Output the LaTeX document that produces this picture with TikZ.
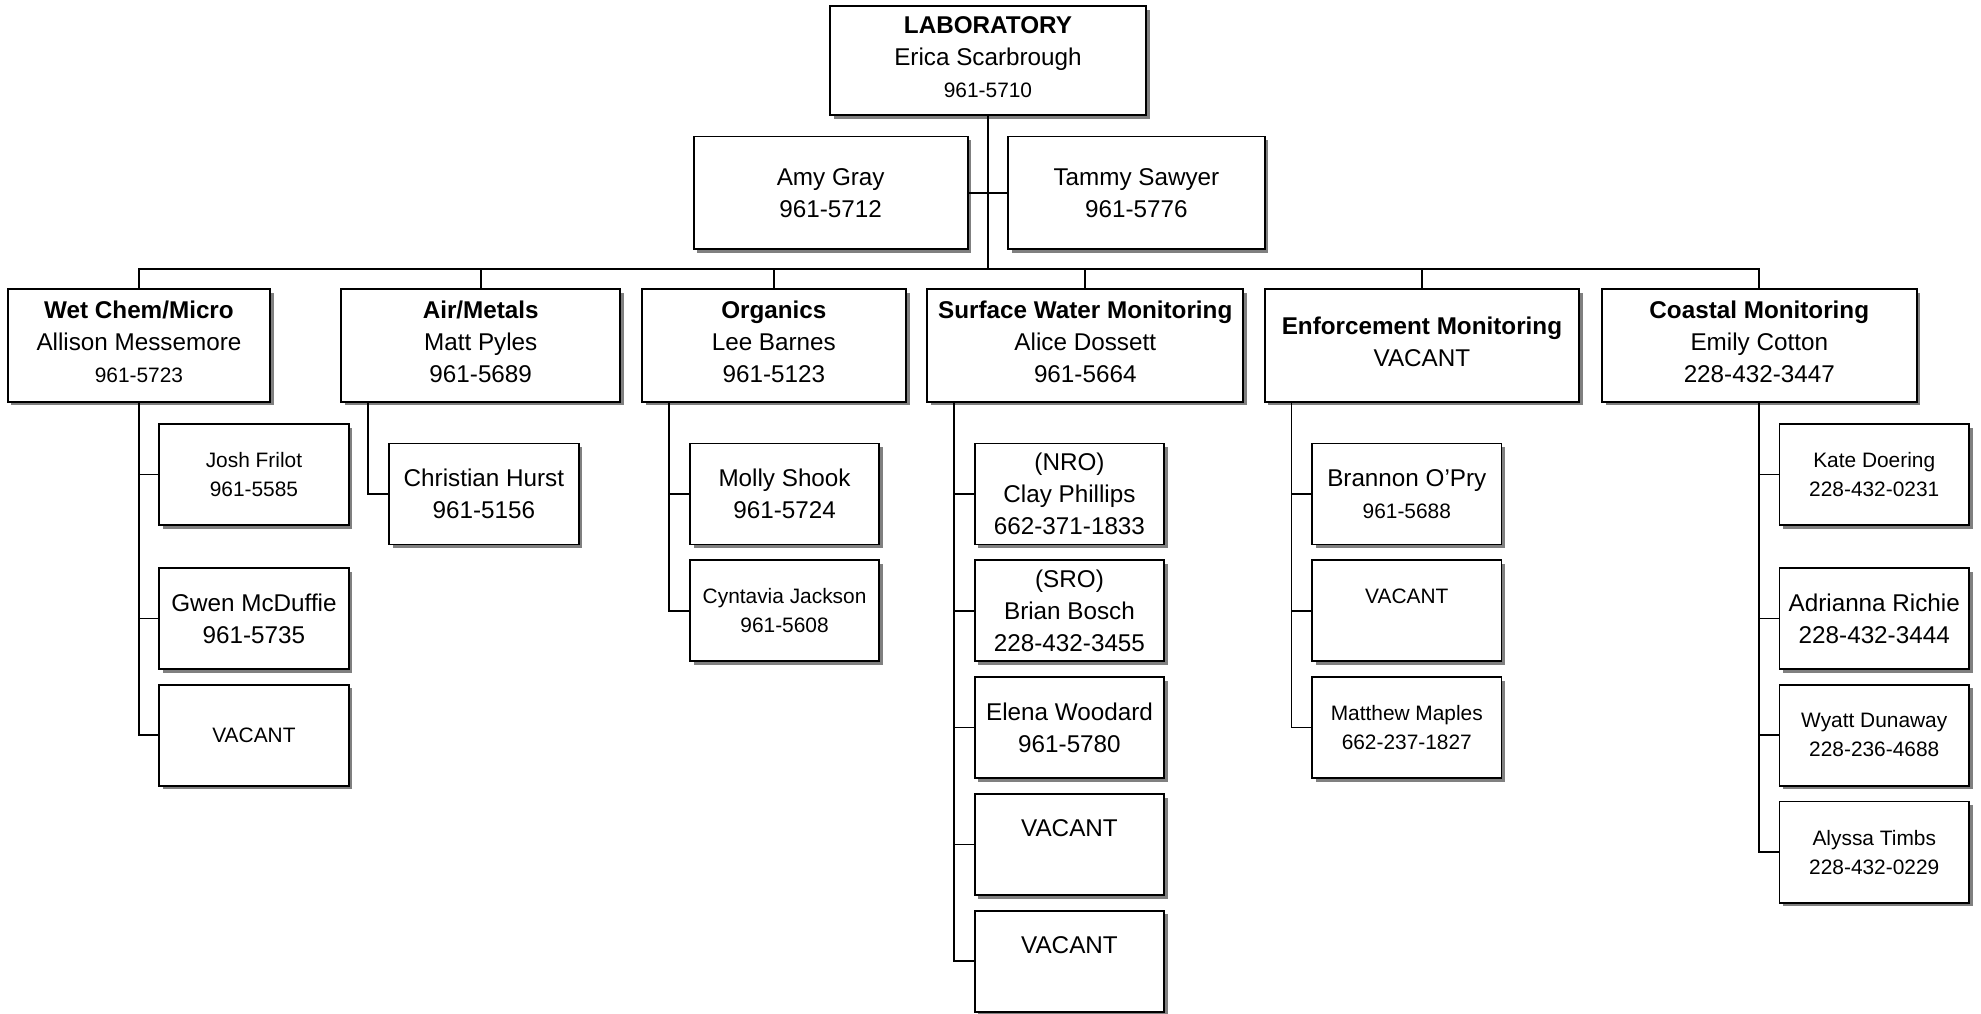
\documentclass[tikz,border=0pt]{standalone}
\usepackage{fontspec}
\setmainfont{Liberation Sans}
\usepackage{tikz}
\usetikzlibrary{positioning, shadows}
\newcommand\bigfnt{\fontsize{14.4pt}{19pt}\selectfont}
\newcommand\smlfnt{\fontsize{12.4pt}{17.25pt}\selectfont}
\tikzset{
  box/.style = {draw, line width=1.1pt, fill=white, align=center, inner sep=2pt, font=\bigfnt,
    drop shadow={opacity=1, fill=black!50, shadow xshift=2.2pt, shadow yshift=-2.2pt}},
  head/.style = {box, minimum height=66.75pt, text depth=4.8pt},
  staff/.style = {box, minimum width=112.5pt, minimum height=60pt},
  smalltxt/.style = {font=\smlfnt},
  link/.style = {line width=1pt}
}

\begin{document}
\begin{tikzpicture}[x=0.75pt, y=-0.75pt, node distance=8.25pt]
		\useasboundingbox (0,0) rectangle (1568,802);
		\node (lab) [box, minimum width=187.5pt, minimum height=64.5pt, text depth=4.5pt] at (782,48) {\textbf{LABORATORY}\\Erica Scarbrough\\{\smlfnt 961-5710}};
		\node (amy) [box, minimum width=162.75pt, minimum height=66.75pt] at (657.5,152.5) {Amy Gray\\961-5712};
		\node (tammy) [box, minimum width=152.25pt, minimum height=66.75pt] at (899.5,152.5) {Tammy Sawyer\\961-5776};
		\coordinate (bus) at (782,213);

		\node (wet) [head, minimum width=156pt] at (110,273.5) {\textbf{Wet Chem/Micro}\\Allison Messemore\\{\smlfnt 961-5723}};
		\node (air) [head, minimum width=165.75pt] at (380.5,273.5) {\textbf{Air/Metals}\\Matt Pyles\\961-5689};
		\node (org) [head, minimum width=156.75pt] at (612.5,273.5) {\textbf{Organics}\\Lee Barnes\\961-5123};
		\node (surf) [head, minimum width=187.5pt] at (859,273.5) {\textbf{Surface Water Monitoring}\\Alice Dossett\\961-5664};
		\node (enf) [head, minimum width=186.75pt] at (1125.5,273.5) {\textbf{Enforcement Monitoring}\\VACANT};
		\node (coast) [head, minimum width=186.75pt] at (1392.5,273.5) {\textbf{Coastal Monitoring}\\Emily Cotton\\228-432-3447};

		\node (josh) [staff, smalltxt] at (201,375.5) {Josh Frilot\\961-5585};
		\node (gwen) [staff, below=24.4pt of josh] {Gwen McDuffie\\961-5735};
		\node (wvac) [staff, smalltxt, below=of gwen] {VACANT};

		\node (hurst) [staff] at (383,391) {Christian Hurst\\961-5156};

		\node (molly) [staff] at (621,391) {Molly Shook\\961-5724};
		\node (cyn) [staff, smalltxt, below=of molly] {Cyntavia Jackson\\961-5608};

		\node (nro) [staff] at (846.5,391) {(NRO)\\Clay Phillips\\662-371-1833};
		\node (sro) [staff, below=of nro] {(SRO)\\Brian Bosch\\228-432-3455};
		\node (elena) [staff, below=of sro] {Elena Woodard\\961-5780};
		\node (svaca) [staff, below=of elena] {VACANT\\~};
		\node (svacb) [staff, below=of svaca] {VACANT\\~};

		\node (brannon) [staff] at (1113.5,391) {Brannon O'Pry\\{\smlfnt 961-5688}};
		\node (evac) [staff, smalltxt, below=of brannon] {VACANT\\~};
		\node (maples) [staff, smalltxt, below=of evac] {Matthew Maples\\662-237-1827};

		\node (kate) [staff, smalltxt] at (1483.5,375.5) {Kate Doering\\228-432-0231};
		\node (adri) [staff, below=24.4pt of kate] {Adrianna Richie\\228-432-3444};
		\node (wyatt) [staff, smalltxt, below=of adri] {Wyatt Dunaway\\228-236-4688};
		\node (alyssa) [staff, smalltxt, below=of wyatt] {Alyssa Timbs\\228-432-0229};

		\coordinate (airdrop) at ([xshift=16.5pt]air.south west);
		\coordinate (orgdrop) at ([xshift=16.5pt]org.south west);
		\coordinate (surfdrop) at ([xshift=16.5pt]surf.south west);
		\coordinate (enfdrop) at ([xshift=16.5pt]enf.south west);

		\draw[link] (lab) -- (bus);
		\draw[link] (amy) -- (amy -| lab);
		\draw[link] (tammy) -- (tammy -| lab);
		\draw[link] (wet) |- (bus) -| (coast);
		\foreach \d in {air, org, surf, enf}
			\draw[link] (\d) -- (\d |- bus);

		\foreach \k in {josh, gwen, wvac}
			\draw[link] (wet) |- (\k);
		\draw[link] (airdrop) |- (hurst);
		\foreach \k in {molly, cyn}
			\draw[link] (orgdrop) |- (\k);
		\foreach \k in {nro, sro, elena, svaca, svacb}
			\draw[link] (surfdrop) |- (\k);
		\foreach \k in {brannon, evac, maples}
			\draw[link] (enfdrop) |- (\k);
		\foreach \k in {kate, adri, wyatt, alyssa}
			\draw[link] (coast) |- (\k);
\end{tikzpicture}
\end{document}
